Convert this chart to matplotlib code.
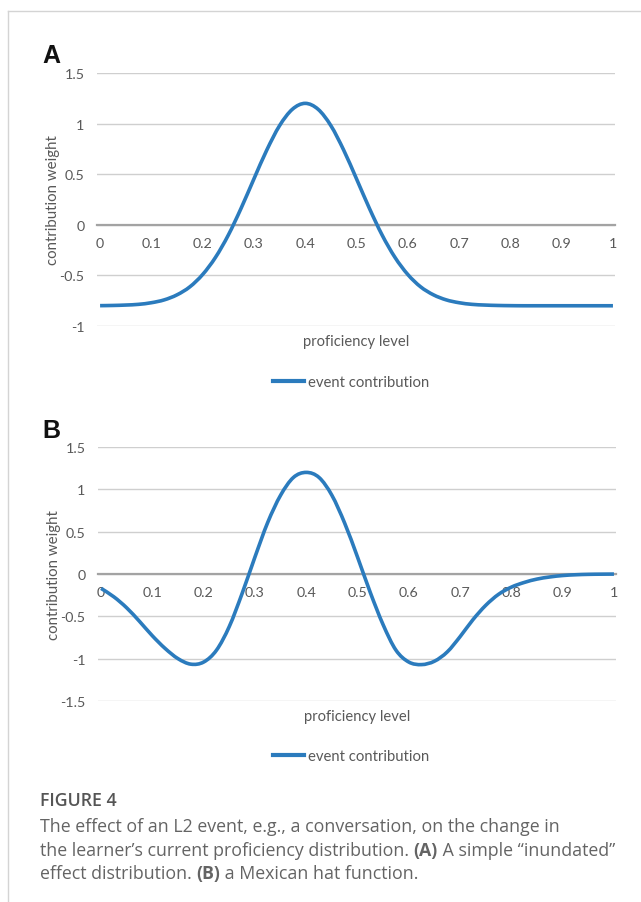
import matplotlib.pyplot as plt
from matplotlib.lines import Line2D
from matplotlib.path import Path
from matplotlib.patches import PathPatch
import numpy as np

W, H = 641, 903
BLUE = '#2b7bbd'
GRID = '#cfcfcf'
TXT = '#595959'

# proficiency levels (x) and the two event-contribution curves
level = np.arange(41) * 0.025
inundated = [-0.799, -0.797, -0.793, -0.786, -0.770, -0.742, -0.692, -0.613,
             -0.491, -0.322, -0.102, 0.164, 0.454, 0.738, 0.980, 1.142,
             1.200, 1.142, 0.980, 0.738, 0.454, 0.164, -0.102, -0.322,
             -0.491, -0.613, -0.692, -0.742, -0.770, -0.786, -0.793, -0.797,
             -0.799, -0.800, -0.800, -0.800, -0.800, -0.800, -0.800, -0.800,
             -0.800]
mexican_hat = [-0.17, -0.27, -0.40, -0.56, -0.73, -0.88, -1.00, -1.065,
               -1.04, -0.90, -0.62, -0.23, 0.20, 0.61, 0.93, 1.14,
               1.20, 1.14, 0.93, 0.60, 0.20, -0.22, -0.60, -0.90,
               -1.04, -1.07, -1.03, -0.92, -0.74, -0.54, -0.37, -0.24,
               -0.155, -0.10, -0.06, -0.035, -0.018, -0.009, -0.004, -0.002,
               -0.001]

xticks = [0, 0.1, 0.2, 0.3, 0.4, 0.5, 0.6, 0.7, 0.8, 0.9, 1]
xticklabels = ['0', '0.1', '0.2', '0.3', '0.4', '0.5', '0.6', '0.7', '0.8', '0.9', '1']
yticks_a = [-1, -0.5, 0, 0.5, 1, 1.5]
yticks_b = [-1.5, -1, -0.5, 0, 0.5, 1, 1.5]

plt.rcParams['font.family'] = ['Lato', 'DejaVu Sans']

fig = plt.figure(figsize=(W / 100, H / 100), dpi=100)


def px_axes(l, t, r, b):
    return fig.add_axes([l / W, 1 - b / H, (r - l) / W, (b - t) / H])


def smooth_path(xs, ys):
    # Catmull-Rom through the points, written as cubic Bezier segments
    p = np.column_stack([xs, ys]).astype(float)
    ext = np.vstack([p[0], p, p[-1]])
    verts = [p[0]]
    codes = [Path.MOVETO]
    for i in range(len(p) - 1):
        p0, p1, p2, p3 = ext[i], ext[i + 1], ext[i + 2], ext[i + 3]
        verts += [p1 + (p2 - p0) / 6, p2 - (p3 - p1) / 6, p2]
        codes += [Path.CURVE4] * 3
    return Path(verts, codes)


def panel(ax, y, yticks, letter, letter_y, legend_y):
    ax.add_patch(PathPatch(smooth_path(level, y), fill=False, edgecolor=BLUE,
                           lw=2.6, joinstyle='round', capstyle='butt', zorder=3))
    ax.set_xlim(-0.006, 1.004)
    ax.set_ylim(yticks[0], yticks[-1])
    ax.set_yticks(yticks)
    ax.set_yticklabels([f'{v:g}' for v in yticks])
    ax.set_xticks(xticks)
    ax.set_xticklabels(xticklabels)
    ax.grid(axis='y', color=GRID, lw=1)
    ax.set_axisbelow(True)
    for s in ['top', 'right', 'left']:
        ax.spines[s].set_visible(False)
    ax.spines['bottom'].set_position(('data', 0))
    ax.spines['bottom'].set_color('#a3a3a3')
    ax.spines['bottom'].set_linewidth(1.6)
    ax.spines['bottom'].set_zorder(2)
    ax.tick_params(length=0, labelsize=10.3, labelcolor=TXT)
    ax.tick_params(axis='x', pad=9)
    ax.tick_params(axis='y', pad=9)
    ax.set_ylabel('contribution weight', fontsize=10.8, color=TXT, labelpad=-0.5)
    ax.text(0.5, -0.058, 'proficiency level', transform=ax.transAxes,
            ha='center', va='center', fontsize=10.6, color=TXT)
    fig.text(42 / W, 1 - letter_y / H, letter, fontsize=18, fontweight='bold',
             family='Liberation Sans', color='#111111', va='baseline')
    fig.legend(handles=[Line2D([], [], color=BLUE, lw=3.0)],
               labels=['event contribution'], loc='center',
               bbox_to_anchor=(351 / W, 1 - legend_y / H), frameon=False,
               fontsize=10.7, labelcolor=TXT, handlelength=2.1,
               handletextpad=0.3)


ax_a = px_axes(97, 74, 615, 327)
panel(ax_a, inundated, yticks_a, 'A', 63, 383)

ax_b = px_axes(98, 448, 616, 702)
panel(ax_b, mexican_hat, yticks_b, 'B', 438, 757)

# page frame
fig.add_artist(Line2D([8 / W, 1], [1 - 12 / H] * 2, transform=fig.transFigure,
                      color='#d4d4d4', lw=1))
fig.add_artist(Line2D([8 / W, 8 / W], [0, 1 - 12 / H], transform=fig.transFigure,
                      color='#d4d4d4', lw=1))

# caption, with bold panel references
renderer = fig.canvas.get_renderer()
CAP = '#646464'
CAP_FONT = 'Open Sans'
CAP_SIZE = 12.8


def text_width(s, bold):
    w = 'bold' if bold else 'normal'
    t1 = fig.text(0, 0, '|' + s + '|', fontsize=CAP_SIZE, fontweight=w, family=CAP_FONT)
    t2 = fig.text(0, 0, '||', fontsize=CAP_SIZE, fontweight=w, family=CAP_FONT)
    width = t1.get_window_extent(renderer).width - t2.get_window_extent(renderer).width
    t1.remove()
    t2.remove()
    return width


def caption_line(x, y, runs):
    for s, bold in runs:
        fig.text(x / W, 1 - y / H, s, fontsize=CAP_SIZE, color=CAP, family=CAP_FONT,
                 fontweight='bold' if bold else 'normal', va='baseline')
        x += text_width(s, bold)


fig.text(40 / W, 1 - 806 / H, 'FIGURE 4', fontsize=12.8, color='#555555',
         family=CAP_FONT, fontweight='semibold', va='baseline')
caption_line(40, 832, [('The effect of an L2 event, e.g., a conversation, on the change in', False)])
caption_line(40, 856, [('the learner\u2019s current proficiency distribution. ', False),
                       ('(A)', True),
                       (' A simple \u201cinundated\u201d', False)])
caption_line(40, 879, [('effect distribution. ', False), ('(B)', True),
                       (' a Mexican hat function.', False)])

fig.savefig('out.png', dpi=100)
